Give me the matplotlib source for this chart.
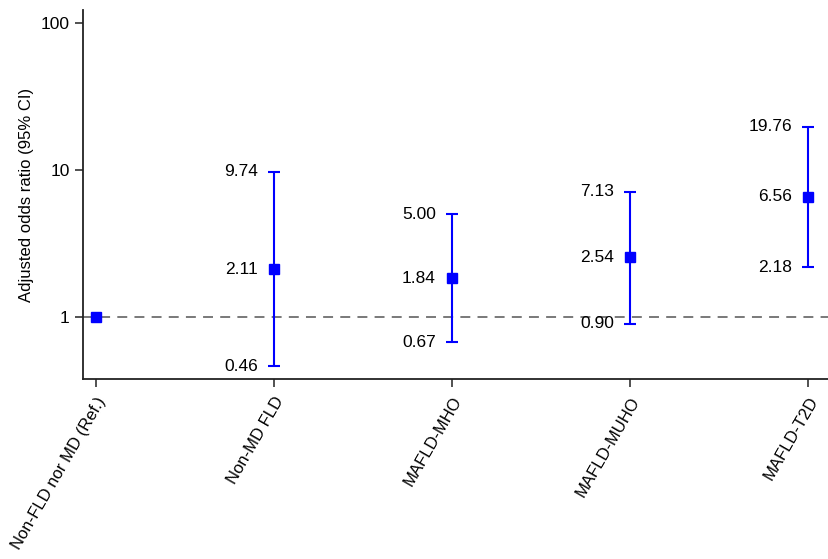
import matplotlib
matplotlib.use('Agg')
import matplotlib.pyplot as plt

plt.rcParams['font.family'] = ['Liberation Sans', 'DejaVu Sans']

groups = ['Non-FLD nor MD (Ref.)', 'Non-MD FLD', 'MAFLD-MHO', 'MAFLD-MUHO', 'MAFLD-T2D']
odds = [1.00, 2.11, 1.84, 2.54, 6.56]
lower = [1.00, 0.46, 0.67, 0.90, 2.18]
upper = [1.00, 9.74, 5.00, 7.13, 19.76]
y_ticks = [1, 10, 100]

fig = plt.figure(figsize=(8.29, 5.59), dpi=100)
ax = fig.add_axes([0.1001, 0.322, 0.8999, 0.660])

x = list(range(1, len(groups) + 1))

ax.axhline(1, color='#6e6e6e', lw=1.3, ls=(0, (5.5, 4)), zorder=1)

# reference group has no interval
for i in x[1:]:
    k = i - 1
    ax.errorbar(i, odds[k], yerr=[[odds[k] - lower[k]], [upper[k] - odds[k]]],
                fmt='none', ecolor='#0000ff', elinewidth=1.5, capsize=4.5, capthick=1.5, zorder=2)
    for v in (lower[k], odds[k], upper[k]):
        ax.annotate('%.2f' % v, (i, v), xytext=(-16, 0), textcoords='offset pixels',
                    ha='right', va='center', fontsize=12.5, color='black')

ax.plot(x, odds, 's', color='#0000ff', ms=7.2, zorder=3)

ax.set_yscale('log')
ax.set_ylim(0.378, 122.6)
ax.set_xlim(0.927, 5.118)
ax.set_yticks(y_ticks)
ax.set_yticklabels([str(t) for t in y_ticks], fontsize=12.5)
ax.minorticks_off()
ax.set_xticks(x)
ax.set_xticklabels(groups, rotation=60, ha='right', va='top', rotation_mode='anchor', fontsize=12)
ax.tick_params(axis='both', length=6, width=1.2, color='#333333')
ax.tick_params(axis='x', pad=5)
ax.set_ylabel('Adjusted odds ratio (95% CI)', fontsize=12, labelpad=5)

ax.spines['top'].set_visible(False)
ax.spines['right'].set_visible(False)
for s in ('left', 'bottom'):
    ax.spines[s].set_linewidth(1.3)
    ax.spines[s].set_color('#222222')

fig.savefig('out.png', dpi=100)
